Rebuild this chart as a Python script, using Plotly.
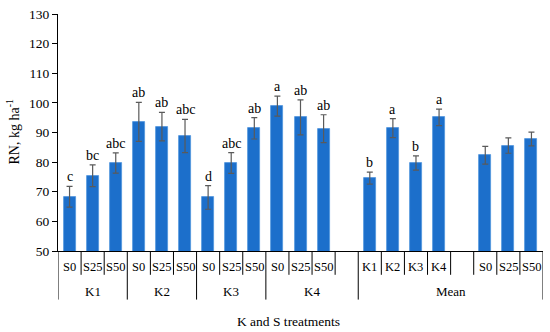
import plotly.graph_objects as go

# ---- data ----
group_labels = ["K1"] * 3 + ["K2"] * 3 + ["K3"] * 3 + ["K4"] * 4 + ["Mean"] * 8
sub_labels = ["S0", "S25", "S50", "S0", "S25", "S50", "S0", "S25", "S50",
              "S0", "S25", "S50", "",
              "K1", "K2", "K3", "K4", "", "S0", "S25", "S50"]
rn_values = [68.3, 75.4, 79.7, 93.6, 92.0, 88.8, 68.1, 79.7, 91.4,
             98.9, 95.1, 91.3, None,
             74.6, 91.5, 79.7, 95.1, None, 82.3, 85.6, 87.8]
rn_errors = [3.5, 3.7, 3.4, 6.6, 4.8, 5.6, 4.0, 3.5, 3.6,
             3.4, 5.9, 4.7, None,
             2.0, 3.2, 2.4, 2.8, None, 3.0, 2.6, 2.3]
letters = ["c", "bc", "abc", "ab", "ab", "abc", "d", "abc", "ab",
           "a", "ab", "ab", "",
           "b", "a", "b", "a", "", "", "", ""]
y_ticks = [50, 60, 70, 80, 90, 100, 110, 120, 130]

# ---- layout constants ----
FONT = "Liberation Serif"
W, H = 550, 332
ML, MR, MT, MB = 58, 7, 12, 81
PH = H - MT - MB
PW = W - ML - MR
BAR_COLOR = "#1C6FCB"


def py(px_below):
    """paper y for a pixel offset below the x axis"""
    return -px_below / PH


n = len(sub_labels)
xs = list(range(n))

fig = go.Figure()
fig.add_trace(go.Bar(
    x=xs, y=rn_values,
    marker=dict(color=BAR_COLOR, line=dict(color="#4F95DD", width=0.8)),
    width=0.52,
    error_y=dict(type="data", array=rn_errors, visible=True,
                 color="#5A5A5A", thickness=1.2, width=3),
    hoverinfo="x+y",
))

shapes = []
annotations = []

# group boundaries
bounds = [-0.5]
for i in range(1, n):
    if group_labels[i] != group_labels[i - 1]:
        bounds.append(i - 0.5)
bounds.append(n - 0.5)

for i in range(n + 1):
    b = i - 0.5
    long = b in bounds
    shapes.append(dict(type="line", xref="x", yref="paper",
                       x0=b, x1=b, y0=0, y1=py(49 if long else 24),
                       line=dict(color="black", width=1)))

# sub labels
for i, s in enumerate(sub_labels):
    if s:
        annotations.append(dict(x=i, y=py(16), xref="x", yref="paper",
                                text=s, showarrow=False, yanchor="middle",
                                font=dict(family=FONT, size=12.5, color="black")))

# group labels
for gi in range(len(bounds) - 1):
    a, b = bounds[gi], bounds[gi + 1]
    g = group_labels[int(a + 0.5)]
    annotations.append(dict(x=(a + b) / 2, y=py(41), xref="x", yref="paper",
                            text=g, showarrow=False, yanchor="middle",
                            font=dict(family=FONT, size=13, color="black")))

# significance letters
for i, (v, e, t) in enumerate(zip(rn_values, rn_errors, letters)):
    if t and v is not None:
        annotations.append(dict(x=i, y=v + e, xref="x", yref="y", text=t,
                                showarrow=False, yanchor="bottom", yshift=0,
                                font=dict(family=FONT, size=14, color="black")))

# axis titles
annotations.append(dict(x=(288 - ML) / PW, y=py(71), xref="paper", yref="paper",
                        text="K and S treatments", showarrow=False,
                        yanchor="middle",
                        font=dict(family=FONT, size=13.5, color="black")))
annotations.append(dict(x=(13 - ML) / PW, y=0.5, xref="paper", yref="paper",
                        text="RN, kg ha<sup>-1</sup>", showarrow=False,
                        textangle=-90, xanchor="center", yanchor="middle",
                        font=dict(family=FONT, size=14, color="black")))

fig.update_layout(
    width=W, height=H,
    margin=dict(l=ML, r=MR, t=MT, b=MB),
    paper_bgcolor="white", plot_bgcolor="white",
    showlegend=False,
    bargap=0,
    shapes=shapes,
    annotations=annotations,
    xaxis=dict(range=[-0.5, n - 0.5], showticklabels=False, ticks="",
               showgrid=False, zeroline=False, showline=True,
               linecolor="black", linewidth=1, fixedrange=True),
    yaxis=dict(range=[50, 130], tickvals=y_ticks, ticks="outside", ticklen=5,
               tickcolor="black", showgrid=False, zeroline=False,
               showline=True, linecolor="black", linewidth=1,
               tickfont=dict(family=FONT, size=13.5, color="black"),
               fixedrange=True),
)

fig.write_html("out.html",
               config={"displayModeBar": False},
               post_script="document.body.style.margin='0';document.body.style.overflow='hidden';")
